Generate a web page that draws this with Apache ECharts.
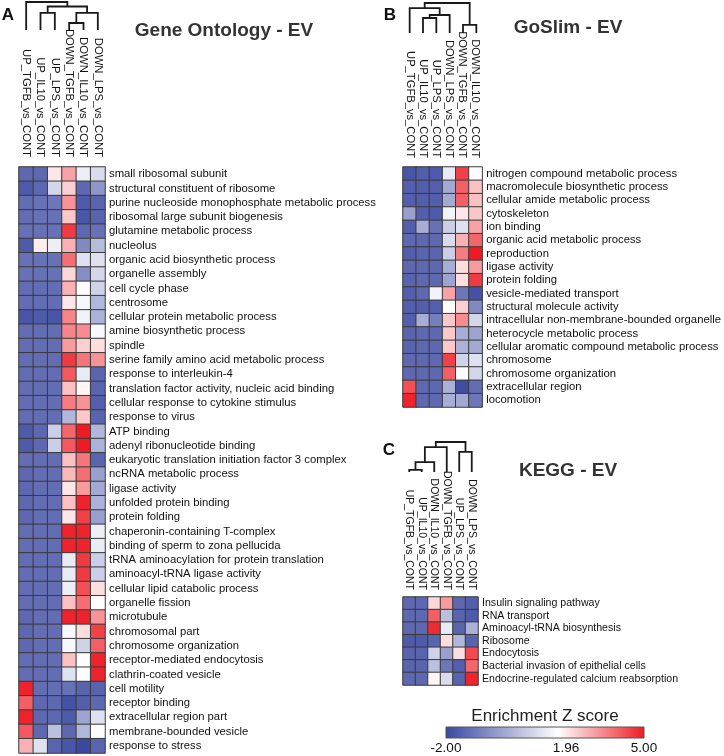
<!DOCTYPE html>
<html><head><meta charset="utf-8">
<script src="https://cdn.jsdelivr.net/npm/echarts@6/dist/echarts.min.js"></script>
<style>html,body{margin:0;padding:0;background:#fff}#c{width:724px;height:756px}</style>
</head><body><div id="c"></div>
<script>
// ---------- DATA ----------
const goColumns = ['UP_TGFB_vs_CONT','UP_IL10_vs_CONT','UP_LPS_vs_CONT','DOWN_TGFB_vs_CONT','DOWN_IL10_vs_CONT','DOWN_LPS_vs_CONT'];
const goTerms = ['small ribosomal subunit','structural constituent of ribosome','purine nucleoside monophosphate metabolic process','ribosomal large subunit biogenesis','glutamine metabolic process','nucleolus','organic acid biosynthetic process','organelle assembly','cell cycle phase','centrosome','cellular protein metabolic process','amine biosynthetic process','spindle','serine family amino acid metabolic process','response to interleukin-4','translation factor activity, nucleic acid binding','cellular response to cytokine stimulus','response to virus','ATP binding','adenyl ribonucleotide binding','eukaryotic translation initiation factor 3 complex','ncRNA metabolic process','ligase activity','unfolded protein binding','protein folding','chaperonin-containing T-complex','binding of sperm to zona pellucida','tRNA aminoacylation for protein translation','aminoacyl-tRNA ligase activity','cellular lipid catabolic process','organelle fission','microtubule','chromosomal part','chromosome organization','receptor-mediated endocytosis','clathrin-coated vesicle','cell motility','receptor binding','extracellular region part','membrane-bounded vesicle','response to stress'];
const goZ = [
[-1.3,-1.3,2.3,3.2,1.6,1.2],[-1.6,-1.3,1.1,2.6,-1.3,-0.3],[-1.2,-1.1,-1.0,3.4,-1.6,-1.4],[-1.2,-1.1,-1.1,2.7,-1.7,-1.4],
[-1.1,-1.1,-1.1,4.6,-1.3,-1.1],[-1.6,2.2,1.6,3.0,-0.6,0.5],[-1.1,-1.1,-1.1,3.9,1.3,1.3],[-1.1,-1.1,-1.1,2.5,-0.5,1.1],
[-1.2,-1.2,-1.2,3.0,1.9,1.0],[-1.2,-1.2,-1.2,2.3,1.8,0.4],[-1.7,-1.6,-1.7,3.6,1.7,0.3],[-1.2,-1.2,-1.2,3.6,3.5,1.8],
[-1.2,-1.2,-1.2,3.3,2.6,2.4],[-1.2,-1.2,-1.2,4.6,3.8,3.4],[-1.2,-1.2,-1.2,4.2,1.5,-1.4],[-1.2,-1.2,-1.2,2.8,2.1,-1.4],
[-1.2,-1.2,-1.2,3.7,3.4,-1.5],[-1.2,-1.2,-1.2,0.4,2.7,-1.4],[-1.6,-1.3,0.9,4.0,5.0,0.4],[-1.6,-1.3,0.9,4.2,5.0,0.3],
[-1.2,-1.2,-1.2,2.8,3.8,-1.4],[-1.3,-1.2,-1.2,2.9,3.9,-0.1],[-1.3,-1.2,-1.2,2.3,3.3,0.1],[-1.3,-1.2,-1.2,2.8,4.9,0.3],
[-1.3,-1.2,-1.2,2.3,4.5,-0.1],[-1.2,-1.2,-1.2,4.9,4.9,1.6],[-1.2,-1.2,-1.2,4.9,4.9,1.5],[-1.2,-1.2,-1.2,1.5,4.6,0.9],
[-1.2,-1.2,-1.2,1.5,4.6,0.9],[-1.2,-1.2,-1.2,1.6,4.3,2.4],[-1.2,-1.2,-1.2,2.8,3.9,2.0],[-1.3,-1.2,-1.2,4.9,4.9,3.4],
[-1.3,-1.2,-1.2,1.8,2.4,4.5],[-1.3,-1.2,-1.2,1.8,1.0,4.1],[-1.2,-1.2,-1.2,2.8,2.0,4.9],[-1.2,-1.2,-1.2,1.3,2.0,4.9],
[4.9,-1.2,-1.2,-1.1,-1.4,-1.4],[4.1,-1.3,-1.3,-1.8,-1.5,-1.3],[4.9,-1.3,-1.3,-1.6,0.0,1.3],[4.2,-1.3,0.6,-1.3,0.4,1.9],
[3.0,1.3,-1.4,-1.7,-2.0,-1.4]];
// merges: [childA, childB, height]; leaves 0..5, new nodes numbered 6,7,...
const goTree = [[1,2,0.61],[3,4,0.25],[7,5,0.61],[6,8,0.84],[0,9,1.0]];

const slimColumns = ['UP_TGFB_vs_CONT','UP_IL10_vs_CONT','UP_LPS_vs_CONT','DOWN_LPS_vs_CONT','DOWN_TGFB_vs_CONT','DOWN_IL10_vs_CONT'];
const slimTerms = ['nitrogen compound metabolic process','macromolecule biosynthetic process','cellular amide metabolic process','cytoskeleton','ion binding','organic acid metabolic process','reproduction','ligase activity','protein folding','vesicle-mediated transport','structural molecule activity','intracellular non-membrane-bounded organelle','heterocycle metabolic process','cellular aromatic compound metabolic process','chromosome','chromosome organization','extracellular region','locomotion'];
const slimZ = [
[-1.7,-1.5,-1.6,1.5,4.5,1.9],[-1.5,-1.5,-1.5,0.1,4.1,2.8],[-1.5,-1.5,-1.5,0.1,4.1,2.8],[-0.1,-1.5,-1.6,1.7,2.3,2.7],
[-1.5,0.2,-1.1,0.9,1.3,3.2],[-1.3,-1.3,-1.3,1.2,3.0,4.0],[-1.5,-1.4,-1.4,0.9,3.7,5.0],[-1.3,-1.3,-1.3,0.2,2.4,3.3],
[-1.4,-1.3,-1.3,0.0,2.4,4.6],[-1.5,-1.3,1.7,3.2,-1.0,-1.8],[-1.5,-1.5,-1.5,2.0,2.6,-0.6],[-1.5,0.2,-0.8,2.7,3.5,1.1],
[-1.4,-1.3,-1.3,2.7,0.2,0.0],[-1.4,-1.3,-1.3,2.7,0.3,0.1],[-1.3,-1.3,-1.3,4.5,1.0,1.3],[-1.3,-1.3,-1.3,4.1,1.9,1.1],
[4.3,-1.3,-1.3,0.3,-1.9,-1.2],[4.9,-1.3,-1.3,0.2,0.1,-1.0]];
const slimTree = [[1,2,0.5],[6,3,0.6],[0,7,0.83],[4,5,0.27],[8,9,1.0]];

const keggColumns = ['UP_TGFB_vs_CONT','UP_IL10_vs_CONT','DOWN_IL10_vs_CONT','DOWN_TGFB_vs_CONT','UP_LPS_vs_CONT','DOWN_LPS_vs_CONT'];
const keggTerms = ['Insulin signaling pathway','RNA transport','Aminoacyl-tRNA biosynthesis','Ribosome','Endocytosis','Bacterial invasion of epithelial cells','Endocrine-regulated calcium reabsorption'];
const keggZ = [
[-1.3,-1.3,2.5,3.3,-1.3,-1.5],[-1.3,-1.3,4.1,0.6,-1.4,-1.6],[-1.3,-1.3,4.8,1.5,-1.4,0.3],[-1.6,-1.6,-1.4,2.4,0.4,-1.4],
[-1.4,-1.4,1.0,-0.1,2.4,4.4],[-1.4,-1.4,0.6,-1.0,-1.5,4.0],[-1.3,-1.3,2.1,1.2,-1.4,4.9]];
const keggTree = [[0,1,0.07],[6,2,0.33],[7,3,0.83],[4,5,0.67],[8,9,1.0]];

const scaleTicks = [-2.00, 1.96, 5.00];
const scaleTitle = 'Enrichment Z score';

// ---------- STYLE ----------
const FONT = '"Liberation Sans", Arial, Helvetica, sans-serif';
const zMin = -2, zMid = 1.96, zMax = 5;
const cLo = [58,72,160], cMid = [255,255,255], cHi = [237,28,36];
function ramp(v){
  v = Math.max(zMin, Math.min(zMax, v));
  let a, b, t;
  if (v <= zMid){ a=cLo; b=cMid; t=(v-zMin)/(zMid-zMin); } else { a=cMid; b=cHi; t=(v-zMid)/(zMax-zMid); }
  const c = a.map((x,i)=>Math.round(x+(b[i]-x)*t));
  return 'rgb('+c.join(',')+')';
}

const panels = [
  {cols:goColumns, rows:goTerms, z:goZ, tree:goTree,
   heat:{left:19, top:167, width:86, height:586}, dendro:{left:19, top:2, width:86, height:28},
   colFont:11.3, rowFont:11.3, colMargin:10},
  {cols:slimColumns, rows:slimTerms, z:slimZ, tree:slimTree,
   heat:{left:403, top:167, width:80, height:240}, dendro:{left:403, top:3, width:80, height:30},
   colFont:11.2, rowFont:11.3, colMargin:9},
  {cols:keggColumns, rows:keggTerms, z:keggZ, tree:keggTree,
   heat:{left:403, top:597, width:75, height:88}, dendro:{left:403, top:442, width:75, height:30},
   colFont:10.5, rowFont:10.6, colMargin:7}
];

const grid=[], xAxis=[], yAxis=[], series=[];
panels.forEach((p, k) => {
  const gi = grid.length;
  grid.push(Object.assign({containLabel:false}, p.heat));
  xAxis.push({type:'category', gridIndex:gi, data:p.cols, position:'top',
    axisLine:{show:false}, axisTick:{show:false}, splitLine:{show:false},
    axisLabel:{interval:0, rotate:90, margin:p.colMargin, fontSize:p.colFont, color:'#111', fontFamily:FONT}});
  yAxis.push({type:'category', gridIndex:gi, data:p.rows, inverse:true, position:'right',
    axisLine:{show:false}, axisTick:{show:false}, splitLine:{show:false},
    axisLabel:{interval:0, margin:4, fontSize:p.rowFont, color:'#111', fontFamily:FONT}});
  const data=[];
  p.z.forEach((row, r) => row.forEach((v, c) => data.push({value:[c, r, v], itemStyle:{color:ramp(v)}})));
  series.push({type:'heatmap', xAxisIndex:gi, yAxisIndex:gi, data:data,
    itemStyle:{borderColor:'#3a3a3a', borderWidth:1}, emphasis:{disabled:true}, silent:true});

  const di = grid.length;
  grid.push(Object.assign({containLabel:false}, p.dendro));
  xAxis.push({type:'value', gridIndex:di, min:0, max:6, show:false});
  yAxis.push({type:'value', gridIndex:di, min:0, max:1, show:false});
  const pos = [0,1,2,3,4,5].map(i=>i+0.5), ht=[0,0,0,0,0,0];
  const segs = [];
  p.tree.forEach(m => {
    const [a, b, h] = m;
    segs.push([pos[a], ht[a], pos[b], ht[b], h]);
    pos.push((pos[a]+pos[b])/2); ht.push(h);
  });
  series.push({type:'custom', xAxisIndex:di, yAxisIndex:di, data:segs, silent:true, clip:false,
    renderItem:function(params, api){
      const p1=api.coord([api.value(0), api.value(1)]);
      const p2=api.coord([api.value(0), api.value(4)]);
      const p3=api.coord([api.value(2), api.value(4)]);
      const p4=api.coord([api.value(2), api.value(3)]);
      return {type:'polyline', shape:{points:[p1,p2,p3,p4]}, style:{stroke:'#1a1a1a', lineWidth:1.8, fill:null}};
    }});
});

// colour scale bar
const ci = grid.length;
grid.push({left:446, top:727, width:198, height:11});
xAxis.push({type:'value', gridIndex:ci, min:zMin, max:zMax, position:'bottom',
  axisLine:{show:false}, axisTick:{show:false}, splitLine:{show:false},
  axisLabel:{customValues:scaleTicks, margin:3, fontSize:13.5, color:'#111', fontFamily:FONT,
    formatter:function(v){ return Math.abs(v-1.96)<1e-6 ? '{m|'+v.toFixed(2)+'}' : v.toFixed(2); },
    rich:{m:{fontSize:13.5, fontFamily:FONT, color:'#111', padding:[0,0,0,16]}}}});
yAxis.push({type:'value', gridIndex:ci, min:0, max:1, show:false});
const stopOffset = (zMid-zMin)/(zMax-zMin);
series.push({type:'custom', xAxisIndex:ci, yAxisIndex:ci, data:[[zMin, zMax]], silent:true, clip:false,
  renderItem:function(params, api){
    const a=api.coord([api.value(0), 1]), b=api.coord([api.value(1), 0]);
    return {type:'rect', shape:{x:a[0], y:a[1], width:b[0]-a[0], height:b[1]-a[1]},
      style:{stroke:'#555', lineWidth:1,
        fill:new echarts.graphic.LinearGradient(0,0,1,0,[
          {offset:0, color:ramp(zMin)}, {offset:stopOffset, color:ramp(zMid)}, {offset:1, color:ramp(zMax)}])}};
  }});

const txt = (x, y, s, size, weight, color) => ({type:'text', x:x, y:y, silent:true,
  style:{text:s, fontSize:size, fontWeight:weight, fill:color, fontFamily:FONT, align:'center', verticalAlign:'middle'}});

const chart = echarts.init(document.getElementById('c'), null, {renderer:'canvas'});
chart.setOption({
  animation:false,
  backgroundColor:'#fff',
  grid:grid, xAxis:xAxis, yAxis:yAxis, series:series,
  graphic:[
    txt(8, 15, 'A', 17, 'bold', '#111'),
    txt(390, 15, 'B', 17, 'bold', '#111'),
    txt(389, 450, 'C', 17, 'bold', '#111'),
    txt(224, 31, 'Gene Ontology - EV', 19, 'bold', '#333'),
    txt(568, 28, 'GoSlim - EV', 19, 'bold', '#333'),
    txt(568, 471, 'KEGG - EV', 19, 'bold', '#333'),
    txt(545, 716, scaleTitle, 17, 'normal', '#222')
  ]
});
</script></body></html>
